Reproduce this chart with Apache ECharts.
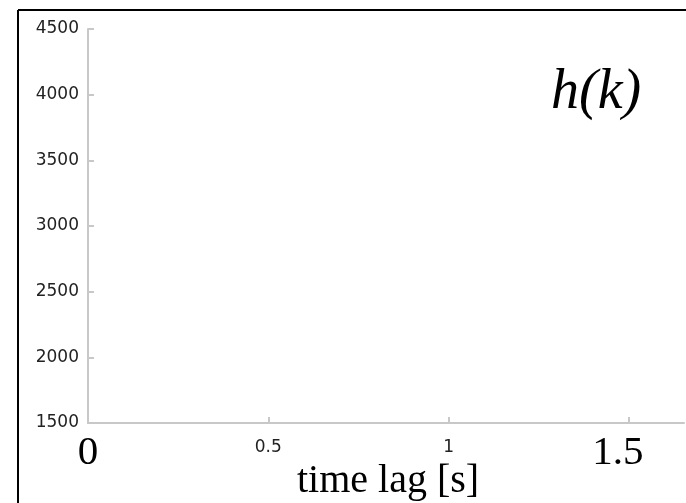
<!DOCTYPE html>
<html><head><meta charset="utf-8">
<script src="https://cdn.jsdelivr.net/npm/echarts@6/dist/echarts.min.js"></script>
<style>html,body{margin:0;padding:0;background:#fff}#c{width:686px;height:503px}</style>
</head><body><div id="c"></div>
<script>
// Data (the reference plot area is empty)
const lagSeconds = [];
const hValues = [];
const xTickValues = [0, 0.5, 1, 1.5];
const xBigLabels = ['0', '1.5'];
const yTickValues = [1500, 2000, 2500, 3000, 3500, 4000, 4500];
const curveLabel = 'h(k)';
const xAxisTitle = 'time lag [s]';

const chart = echarts.init(document.getElementById('c'), null, {renderer: 'canvas'});
const axisGray = '#c8c8c8';
chart.setOption({
  animation: false,
  backgroundColor: '#fff',
  grid: {left: 88, top: 29, right: 2, bottom: 80, containLabel: false},
  xAxis: {
    type: 'value', min: 0, max: 1.653, interval: 0.5,
    axisLine: {show: true, onZero: false, lineStyle: {color: axisGray, width: 2}},
    axisTick: {show: true, inside: true, length: 6, customValues: xTickValues, lineStyle: {color: axisGray, width: 2}},
    splitLine: {show: false},
    axisLabel: {
      customValues: xTickValues,
      margin: 10,
      fontSize: 17,
      fontFamily: 'DejaVu Sans',
      formatter: function (v) {
        const s = String(v);
        if (s === '1.5') return '{bigR|' + s + '}';
        return xBigLabels.indexOf(s) >= 0 ? '{big|' + s + '}' : '{small|' + s + '}';
      },
      rich: {
        big: {fontFamily: 'Liberation Serif', fontSize: 41, color: '#000', lineHeight: 40},
        bigR: {fontFamily: 'Liberation Serif', fontSize: 41, color: '#000', lineHeight: 40, padding: [0, 22, 0, 0]},
        small: {fontFamily: 'DejaVu Sans', fontSize: 17, color: '#222', lineHeight: 40, padding: [0, 0, 10, 0]}
      }
    }
  },
  yAxis: {
    type: 'value', min: 1500, max: 4500, interval: 500,
    axisLine: {show: true, onZero: false, lineStyle: {color: axisGray, width: 2}},
    axisTick: {show: true, inside: true, length: 6, lineStyle: {color: axisGray, width: 2}},
    splitLine: {show: false},
    axisLabel: {margin: 9, fontFamily: 'DejaVu Sans', fontSize: 17, color: '#222', formatter: v => String(v)}
  },
  series: [{
    type: 'line', name: curveLabel, showSymbol: false,
    data: lagSeconds.map((t, i) => [t, hValues[i]]),
    lineStyle: {color: '#000', width: 2}
  }],
  graphic: [
    {type: 'line', shape: {x1: 18, y1: 10, x2: 686, y2: 10}, style: {stroke: '#000', lineWidth: 2}},
    {type: 'line', shape: {x1: 18, y1: 10, x2: 18, y2: 503}, style: {stroke: '#000', lineWidth: 2}},
    {type: 'text', left: 551, top: 65, style: {text: curveLabel, font: 'italic 56px "Liberation Serif"', fill: '#000'}},
    {type: 'text', left: 297, top: 461, style: {text: xAxisTitle, font: '40px "Liberation Serif"', fill: '#000'}}
  ]
});
</script></body></html>
